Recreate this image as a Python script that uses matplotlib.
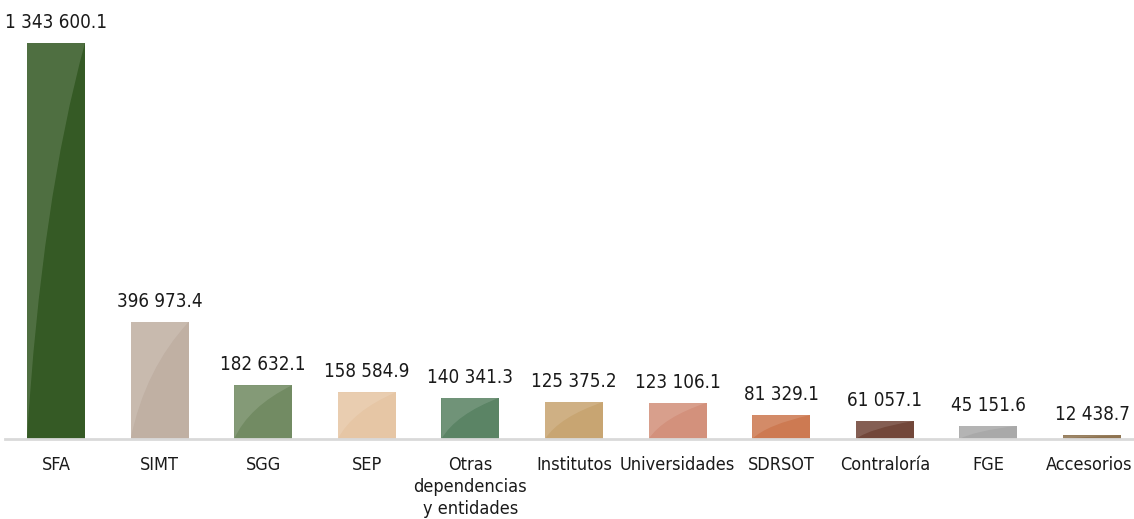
import matplotlib
matplotlib.use("Agg")
import matplotlib.pyplot as plt
from matplotlib.path import Path
from matplotlib.patches import PathPatch
from matplotlib.transforms import ScaledTranslation

categories = ["SFA", "SIMT", "SGG", "SEP", "Otras\ndependencias\ny entidades", "Institutos",
              "Universidades", "SDRSOT", "Contraloría", "FGE", "Accesorios"]
values = [1343600.1, 396973.4, 182632.1, 158584.9, 140341.3, 125375.2,
          123106.1, 81329.1, 61057.1, 45151.6, 12438.7]
colors = ["#355a25", "#c0b0a3", "#728b63", "#e6c6a5", "#5b8465", "#c8a572",
          "#d3917c", "#cd7a52", "#72473a", "#a9a9a9", "#8e7350"]

plt.rcParams["font.family"] = ["DejaVu Sans"]
plt.rcParams["font.stretch"] = "condensed"


def fmt(v):
    return f"{v:,.1f}".replace(",", " ")


fig = plt.figure(figsize=(11.34, 5.19), dpi=100)
ax = fig.add_axes([0, 80 / 519, 1, 439 / 519])

x = list(range(len(values)))
bars = ax.bar(x, values, width=0.56, color=colors, zorder=2)

# soft gloss highlight in the upper-left of every bar
for b in bars:
    x0, w, h = b.get_x(), b.get_width(), b.get_height()
    verts = [(x0, 0), (x0 + 0.25 * w, 0.6 * h), (x0 + w, h), (x0, h), (x0, 0)]
    codes = [Path.MOVETO, Path.CURVE3, Path.CURVE3, Path.LINETO, Path.CLOSEPOLY]
    gloss = PathPatch(Path(verts, codes), facecolor="white", edgecolor="none", alpha=0.13, zorder=3)
    ax.add_patch(gloss)

for xi, v in zip(x, values):
    ax.annotate(fmt(v), (xi, v), xytext=(0, 8), textcoords="offset points",
                ha="center", va="bottom", fontsize=13.5, color="#1a1a1a")

ax.set_xlim(-0.54, 10.405)
ax.set_ylim(0, 1343600.1 * 439 / 396)
ax.set_xticks(x)
ax.set_xticklabels(categories, fontsize=13, color="#1a1a1a", linespacing=1.3)
ax.tick_params(axis="x", length=0, pad=12)
# keep the last label inside the canvas
last = ax.get_xticklabels()[-1]
last.set_transform(last.get_transform() + ScaledTranslation(-3 / 100, 0, fig.dpi_scale_trans))
ax.set_yticks([])
for s in ["top", "left", "right"]:
    ax.spines[s].set_visible(False)
ax.spines["bottom"].set_color("#d9d9d9")
ax.spines["bottom"].set_linewidth(2)
ax.spines["bottom"].set_bounds(-0.49, 10.405)

fig.savefig("out.png", dpi=100)
